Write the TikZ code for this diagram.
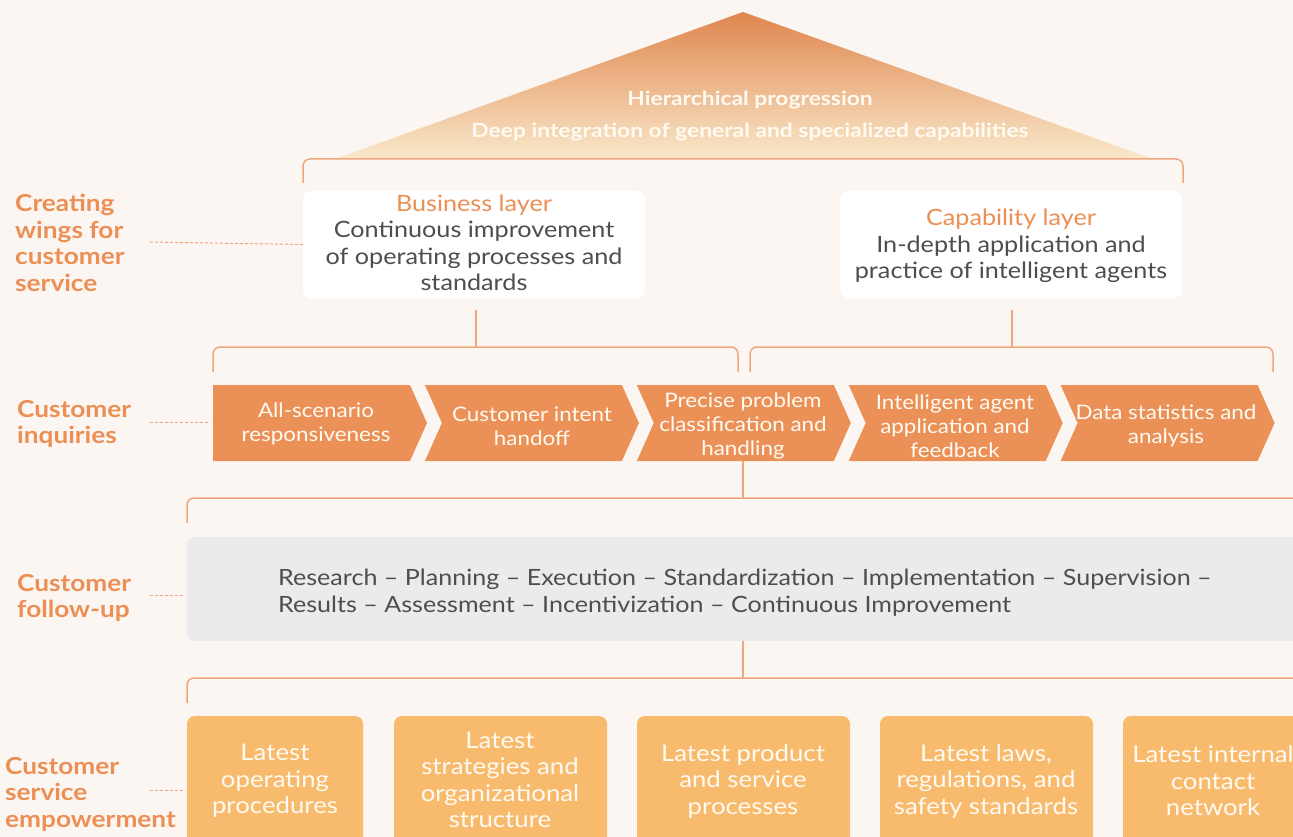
\documentclass[tikz,border=0pt]{standalone}
\usepackage{fontspec}
\setmainfont{Lato}[FakeStretch=1.12]
\newfontfamily\trifont{Lato}[FakeStretch=1.17]
\definecolor{bg}{RGB}{252,246,243}
\definecolor{orng}{RGB}{235,145,88}
\definecolor{lbl}{RGB}{236,143,84}
\definecolor{brk}{RGB}{239,166,124}
\definecolor{grayb}{RGB}{235,235,237}
\definecolor{txt}{RGB}{78,78,78}
\definecolor{lite}{RGB}{248,187,109}
\definecolor{tritop}{RGB}{224,134,78}
\definecolor{tribot}{RGB}{249,232,202}
\definecolor{wtxt}{RGB}{255,250,242}
\tikzset{
  lbltext/.style={anchor=west, align=left, text=lbl, inner sep=0pt, font=\bfseries\fontsize{23.4}{26.5}\selectfont},
  dashln/.style={draw=brk, dashed, dash pattern=on 3pt off 2pt, line width=1pt},
  brkln/.style={draw=brk, line width=1.5pt, rounded corners=7pt},
  layerbox/.style={fill=white, rounded corners=8pt, minimum width=342pt, minimum height=107pt, inner sep=0pt},
  chevtext/.style={text=wtxt, align=center, inner sep=0pt, font=\fontsize{20}{24}\selectfont},
  chevfill/.style={fill=orng},
  litebox/.style={fill=lite, rounded corners=8pt},
  boxtext/.style={text=wtxt, align=center, inner sep=0pt, font=\fontsize{23}{26.5}\selectfont},
}
\begin{document}
\begin{tikzpicture}[x=1pt,y=-1pt]
\clip (0,0) rectangle (1293,837);
\fill[bg] (0,0) rectangle (1293,837);

% triangle
\coordinate (apex) at (743,12);
\coordinate (tl) at (338,158);
\coordinate (tr) at (1150,158);
\shade[top color=tritop, bottom color=tribot] (apex) -- (tr) -- (tl) -- cycle;
\node[text=wtxt, align=center, inner sep=0pt, font=\trifont\bfseries\fontsize{19.5}{32}\selectfont] (tri) at (750,116)
  {Hierarchical progression\\Deep integration of general and specialized capabilities};

% top bracket
\coordinate (b1l) at (303,183);
\coordinate (b1r) at (1183,183);
\draw[brkln] (b1l) |- (743,159) -| (b1r);

% left labels
\node[lbltext] (l1) at (15,243) {Creating\\wings for\\customer\\service};
\node[lbltext] (l2) at (17,424) {Customer\\inquiries};
\node[lbltext] (l3) at (17,598) {Customer\\follow-up};
\node[lbltext] (l4) at (5,794) {Customer\\service\\empowerment};

% layer boxes
\node[layerbox] (bus) at (474,244.5) {};
\node[align=center, inner sep=0pt, font=\fontsize{22.5}{26.5}\selectfont, text=txt] (bust) at (474,243)
  {\textcolor{lbl}{Business layer}\\Continuous improvement\\of operating processes and\\standards};
\node[layerbox] (cap) at (1011,244.5) {};
\node[align=center, inner sep=0pt, font=\fontsize{22.5}{26.5}\selectfont, text=txt] (capt) at (1011,246)
  {\textcolor{lbl}{Capability layer}\\In-depth application and\\practice of intelligent agents};

\draw[dashln] (150,242) -- (bus.west);

% stems to second brackets
\coordinate (s1a) at (476,310);
\coordinate (s1b) at (476,347);
\coordinate (s2a) at (1012,310);
\coordinate (s2b) at (1012,347);
\draw[brk, line width=1.5pt] (s1a) -- (s1b);
\draw[brk, line width=1.5pt] (s2a) -- (s2b);
\draw[brkln] (213,372) |- (s1b) -| (738,372);
\draw[brkln] (750,372) |- (s2b) -| (1273,372);

% chevrons
\fill[chevfill] (213,385) -- (410,385) -- (427,423) -- (410,461) -- (213,461) -- cycle;
\foreach \i in {1,2,3,4}{
  \pgfmathsetmacro{\L}{213+211.9*\i}
  \fill[chevfill] (\L,385) -- (\L+197,385) -- (\L+214,423) -- (\L+197,461) -- (\L,461) -- (\L+17,423) -- cycle;
}
\node[chevtext] (c1) at (316,423.5) {All-scenario\\responsiveness};
\node[chevtext] (c2) at (532,426) {Customer intent\\handoff};
\node[chevtext] (c3) at (743,426) {Precise problem\\classification and\\handling};
\node[chevtext] (c4) at (955,426) {Intelligent agent\\application and\\feedback};
\node[chevtext] (c5) at (1166,426) {Data statistics and\\analysis};
\draw[dashln] (150,422) -- (210,422);

% stem to third bracket
\coordinate (s3a) at (743,461);
\coordinate (s3b) at (743,498);
\draw[brk, line width=1.5pt] (s3a) -- (s3b);
\draw[brkln] (187,523) |- (s3b) -- (1300,498);

% gray box
\fill[grayb, rounded corners=8pt] (187,537) rectangle (1320,641);
\node[anchor=west, align=left, inner sep=0pt, text=txt, font=\fontsize{22.4}{27}\selectfont] (proc) at (278,593)
  {Research -- Planning -- Execution -- Standardization -- Implementation -- Supervision --\\
   Results -- Assessment -- Incentivization -- Continuous Improvement};
\draw[dashln] (150,595) -- (183,595);

% stem to fourth bracket
\coordinate (s4a) at (743,641);
\coordinate (s4b) at (743,678);
\draw[brk, line width=1.5pt] (s4a) -- (s4b);
\draw[brkln] (187,703) |- (s4b) -- (1300,678);

% bottom boxes
\fill[litebox] (187,716) rectangle (363,870);
\fill[litebox] (394,716) rectangle (607,870);
\fill[litebox] (637,716) rectangle (850,870);
\fill[litebox] (880,716) rectangle (1093,870);
\fill[litebox] (1123,716) rectangle (1340,870);
\node[boxtext] (e1) at (275,781) {Latest\\operating\\procedures};
\node[boxtext] (e2) at (500,780) {Latest\\strategies and\\organizational\\structure};
\node[boxtext] (e3) at (743,781) {Latest product\\and service\\processes};
\node[boxtext] (e4) at (986,781) {Latest laws,\\regulations, and\\safety standards};
\node[boxtext] (e5) at (1213,781) {Latest internal\\contact\\network};
\draw[dashln] (150,790) -- (183,790);
\end{tikzpicture}
\end{document}
